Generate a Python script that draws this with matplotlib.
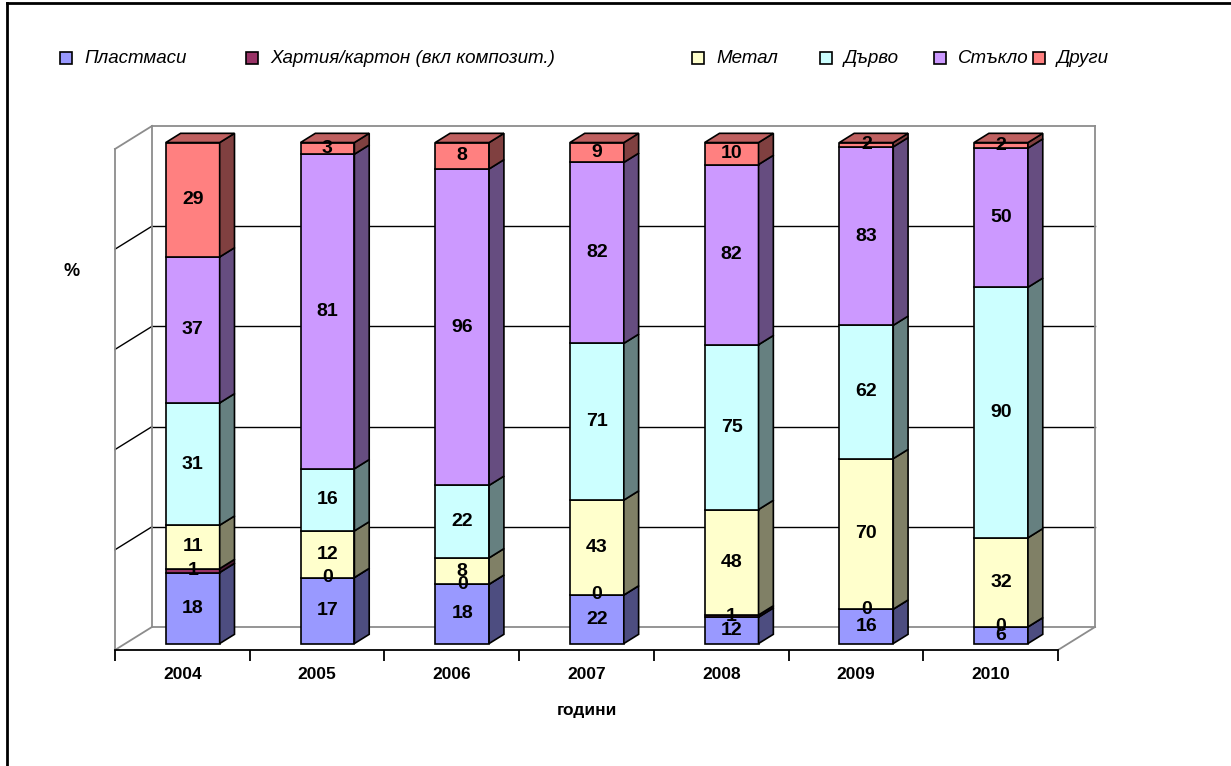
import numpy as np
import matplotlib
matplotlib.use('Agg')
import matplotlib.pyplot as plt
from matplotlib.patches import Polygon, Rectangle
from matplotlib.colors import to_rgb

plt.rcParams['font.family'] = ['Liberation Sans', 'DejaVu Sans']

years = ['2004', '2005', '2006', '2007', '2008', '2009', '2010']
plastics = [18, 17, 18, 22, 12, 16, 6]
paper = [1, 0, 0, 0, 1, 0, 0]
metal = [11, 12, 8, 43, 48, 70, 32]
wood = [31, 16, 22, 71, 75, 62, 90]
glass = [37, 81, 96, 82, 82, 83, 50]
other = [29, 3, 8, 9, 10, 2, 2]
names = ['Пластмаси', 'Хартия/картон (вкл композит.)', 'Метал', 'Дърво', 'Стъкло', 'Други']
colors = ['#9999FF', '#993366', '#FFFFCC', '#CCFFFF', '#CC99FF', '#FF8080']


def shade(c, f):
    r, g, b = to_rgb(c)
    return (r * f, g * f, b * f)


W, H = 1231, 766
fig = plt.figure(figsize=(W / 100, H / 100), dpi=100)

# front plane of the 3d box
ax = fig.add_axes([115 / W, 1 - 650 / H, (1058 - 115) / W, 501 / H])
ax.set_xlim(-0.5, 6.5)
ax.set_ylim(0, 100)
ax.patch.set_alpha(0)
for s in ['top', 'right', 'left']:
    ax.spines[s].set_visible(False)
ax.spines['bottom'].set_linewidth(1.3)
ax.set_yticks([])
x = np.arange(len(years))
ax.set_xticks(x)
ax.set_xticklabels(years, fontsize=12.5, fontweight='bold')
ax.set_xticks(np.arange(-0.5, 7, 1), minor=True)
ax.tick_params(axis='x', which='major', length=0, pad=12)
ax.tick_params(axis='x', which='minor', length=8, width=1.3, direction='out')

# wall depth
DX, DY = 0.275, 4.6
gray = '#8C8C8C'
for g in [20, 40, 60, 80]:
    ax.plot([-0.5 + DX, 6.5 + DX], [g + DY, g + DY], color='black', lw=1, zorder=1, clip_on=False)
    ax.plot([-0.5, -0.5 + DX], [g, g + DY], color='black', lw=1, zorder=1, clip_on=False)
edges = [
    ([-0.5, -0.5], [0, 100]),
    ([-0.5 + DX, -0.5 + DX], [DY, 100 + DY]),
    ([-0.5 + DX, 6.5 + DX], [100 + DY, 100 + DY]),
    ([6.5 + DX, 6.5 + DX], [DY, 100 + DY]),
    ([-0.5, -0.5 + DX], [100, 100 + DY]),
    ([-0.5 + DX, 6.5 + DX], [DY, DY]),
    ([-0.5, -0.5 + DX], [0, DY]),
    ([6.5, 6.5 + DX], [0, DY]),
]
for ex, ey in edges:
    ax.plot(ex, ey, color=gray, lw=1.3, zorder=1, clip_on=False)

# bars
data = np.array([plastics, paper, metal, wood, glass, other], dtype=float)
shares = data / data.sum(axis=0) * 100
fd, bd = 0.28, 0.4
fx, fy = fd * DX, fd * DY
bx, by = bd * DX, bd * DY
bw = 0.4
bottom = np.zeros(len(years))
for k in range(len(names)):
    ax.bar(x + fx, shares[k], width=bw, bottom=bottom + fy, color=colors[k],
           edgecolor='black', linewidth=1.2, zorder=3, clip_on=False)
    for i in range(len(years)):
        b = bottom[i] + fy
        t = b + shares[k][i]
        r = x[i] + fx + bw / 2
        l = x[i] + fx - bw / 2
        ax.add_patch(Polygon([(r, b), (r + bx, b + by), (r + bx, t + by), (r, t)], closed=True,
                             facecolor=shade(colors[k], 0.5), edgecolor='black', lw=1.2,
                             zorder=3, clip_on=False))
        if k == len(names) - 1:
            ax.add_patch(Polygon([(l, t), (r, t), (r + bx, t + by), (l + bx, t + by)], closed=True,
                                 facecolor=shade(colors[k], 0.75), edgecolor='black', lw=1.2,
                                 zorder=3, clip_on=False))
        ax.text(x[i] + fx, b + shares[k][i] / 2, str(int(data[k][i])), ha='center', va='center',
                fontsize=14, fontweight='bold', zorder=6, clip_on=False)
    bottom += shares[k]

# overlay in pixel units for border, legend and titles
ov = fig.add_axes([0, 0, 1, 1], zorder=-1)
ov.set_xlim(0, W)
ov.set_ylim(H, 0)
ov.axis('off')
ov.plot([7, 7], [3, H], color='black', lw=2)
ov.plot([7, W], [3, 3], color='black', lw=2)

leg_x = [60, 246, 692, 820, 934, 1033]
for sx, name, c in zip(leg_x, names, colors):
    ov.add_patch(Rectangle((sx, 52), 12, 12, facecolor=c, edgecolor='black', lw=1.2))
    ov.text(sx + 24, 58.5, name, ha='left', va='center', fontsize=13.5, fontstyle='italic')

ov.text(587, 710, 'години', ha='center', va='center', fontsize=12.5, fontweight='bold')
ov.text(72, 272, '%', ha='center', va='center', fontsize=13, fontweight='bold')

fig.savefig('out.png', dpi=100)
